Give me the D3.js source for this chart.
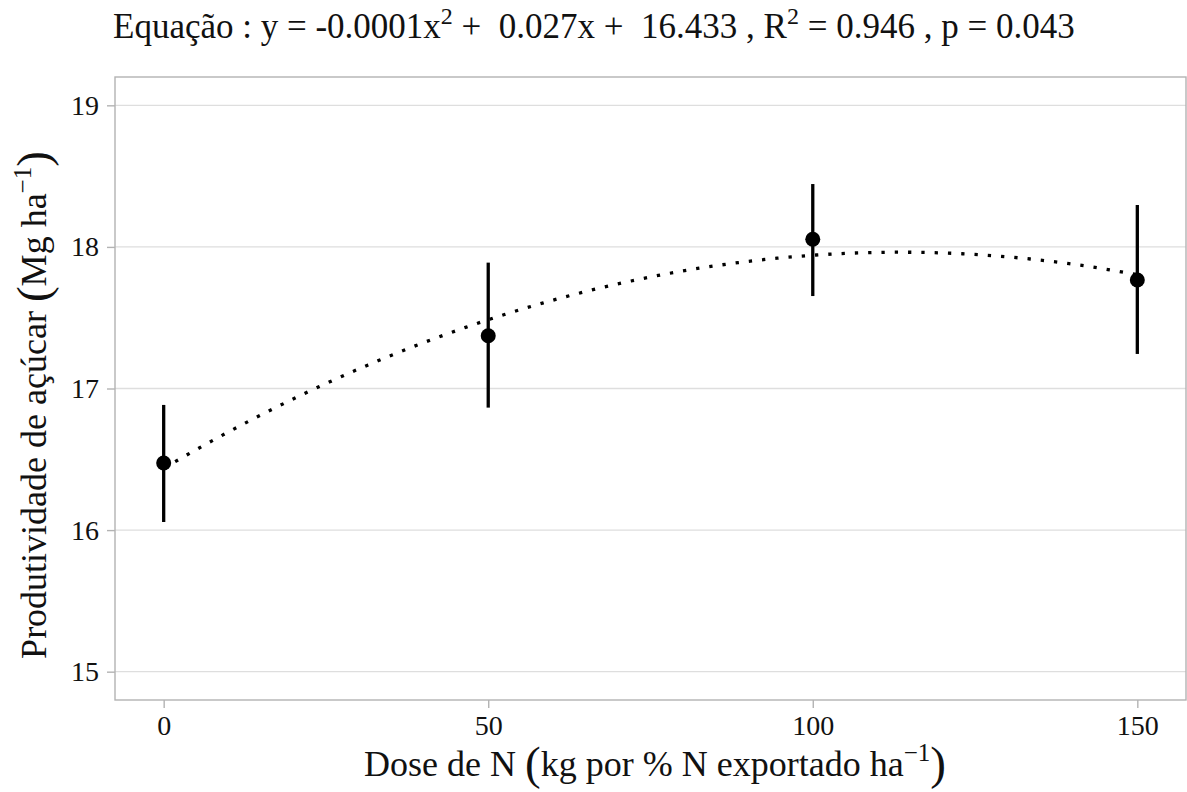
<!DOCTYPE html>
<html>
<head>
<meta charset="utf-8">
<script src="https://cdn.jsdelivr.net/npm/d3@7"></script>
<style>
  body { margin: 0; background: #fff; }
  svg { display: block; }
  text { font-family: "Liberation Serif", "Times New Roman", serif; fill: #111; white-space: pre; }
</style>
</head>
<body>
<svg id="chart" width="1187" height="792"></svg>
<script>
// Sugar yield by nitrogen dose: treatment means with error bars
const doses = [0, 50, 100, 150];
const means = [16.474, 17.373, 18.054, 17.766];
const lower = [16.057, 16.865, 17.653, 17.244];
const upper = [16.884, 17.889, 18.444, 18.296];

const xTicks = [0, 50, 100, 150];
const yTicks = [15, 16, 17, 18, 19];

// Equation text pieces (superscripts handled separately)
const titleParts = [
  { t: "Equação : y = -0.0001x" }, { t: "2", sup: true },
  { t: " +  0.027x +  16.433 , R" }, { t: "2", sup: true },
  { t: " = 0.946 , p = 0.043" }
];

const panel = { left: 115, right: 1186, top: 77, bottom: 700 };

const svg = d3.select("#chart");

const x = d3.scaleLinear().domain([-7.5, 157.5]).range([panel.left, panel.right]);
const y = d3.scaleLinear().domain([14.8, 19.2]).range([panel.bottom, panel.top]);

// Least-squares quadratic fit of the means: y = c0 + c1 x + c2 x^2
function quadFit(xs, ys) {
  const S = (f) => d3.sum(xs, (v, i) => f(v, i));
  const n = xs.length;
  const A = [
    [n, S(v => v), S(v => v * v)],
    [S(v => v), S(v => v * v), S(v => v ** 3)],
    [S(v => v * v), S(v => v ** 3), S(v => v ** 4)]
  ];
  const b = [S((v, i) => ys[i]), S((v, i) => v * ys[i]), S((v, i) => v * v * ys[i])];
  for (let i = 0; i < 3; i++) {
    for (let k = i + 1; k < 3; k++) {
      const f = A[k][i] / A[i][i];
      for (let j = i; j < 3; j++) A[k][j] -= f * A[i][j];
      b[k] -= f * b[i];
    }
  }
  const c = [0, 0, 0];
  for (let i = 2; i >= 0; i--) {
    let s = b[i];
    for (let j = i + 1; j < 3; j++) s -= A[i][j] * c[j];
    c[i] = s / A[i][i];
  }
  return c;
}
const coef = quadFit(doses, means);
const fitted = d3.range(0, 150.001, 1.5).map(d => [d, coef[0] + coef[1] * d + coef[2] * d * d]);

// Gridlines
svg.append("g").selectAll("line").data(yTicks).join("line")
  .attr("x1", panel.left).attr("x2", panel.right)
  .attr("y1", d => y(d)).attr("y2", d => y(d))
  .attr("stroke", "#dedede").attr("stroke-width", 1.3);

// Panel border
svg.append("rect")
  .attr("x", panel.left).attr("y", panel.top)
  .attr("width", panel.right - panel.left).attr("height", panel.bottom - panel.top)
  .attr("fill", "none").attr("stroke", "#b3b3b3").attr("stroke-width", 1.4);

// Axes
const yAxis = svg.append("g").attr("transform", `translate(${panel.left},0)`)
  .call(d3.axisLeft(y).tickValues(yTicks).tickFormat(d3.format("d")).tickSize(8).tickPadding(8));
const xAxis = svg.append("g").attr("transform", `translate(0,${panel.bottom})`)
  .call(d3.axisBottom(x).tickValues(xTicks).tickFormat(d3.format("d")).tickSize(8).tickPadding(7));
[xAxis, yAxis].forEach(g => {
  g.select(".domain").remove();
  g.selectAll(".tick line").attr("stroke", "#b3b3b3").attr("stroke-width", 1.4);
  g.selectAll(".tick text").attr("font-size", 28).attr("fill", "#222")
    .attr("font-family", "'Liberation Serif', serif");
});

// Fitted curve
svg.append("path").datum(fitted)
  .attr("d", d3.line().x(d => x(d[0])).y(d => y(d[1])))
  .attr("fill", "none").attr("stroke", "#000")
  .attr("stroke-width", 3.3).attr("stroke-dasharray", "3.3 10");

// Error bars
svg.append("g").selectAll("line").data(doses).join("line")
  .attr("x1", d => x(d)).attr("x2", d => x(d))
  .attr("y1", (d, i) => y(lower[i])).attr("y2", (d, i) => y(upper[i]))
  .attr("stroke", "#000").attr("stroke-width", 3.3);

// Means
svg.append("g").selectAll("circle").data(doses).join("circle")
  .attr("cx", d => x(d)).attr("cy", (d, i) => y(means[i]))
  .attr("r", 7.5).attr("fill", "#000");

// Title
const title = svg.append("text").attr("x", 113).attr("y", 38).attr("font-size", 35);
titleParts.forEach((p, i) => {
  if (p.sup) {
    title.append("tspan").attr("font-size", 24).attr("dy", -14).text(p.t);
  } else {
    const ts = title.append("tspan").text(p.t);
    if (i > 0) ts.attr("dy", 14);
  }
});

// Axis title helper: text with enlarged brackets and a superscript
function axisTitle(g, before, inner, sup) {
  const t = g.append("text").attr("font-size", 36).attr("text-anchor", "middle");
  t.append("tspan").text(before);
  t.append("tspan").attr("font-size", 47).attr("dy", 3).text("(");
  t.append("tspan").attr("dy", -3).text(inner);
  t.append("tspan").attr("font-size", 25).attr("dy", -15).text(sup);
  t.append("tspan").attr("font-size", 47).attr("dy", 18).text(")");
  return t;
}

const xTitle = svg.append("g").attr("transform", "translate(655,776)");
axisTitle(xTitle, "Dose de N ", "kg por % N exportado ha", "−1");

const yTitle = svg.append("g").attr("transform", "translate(46,405) rotate(-90)");
axisTitle(yTitle, "Produtividade de açúcar ", "Mg ha", "−1");
</script>
</body>
</html>
